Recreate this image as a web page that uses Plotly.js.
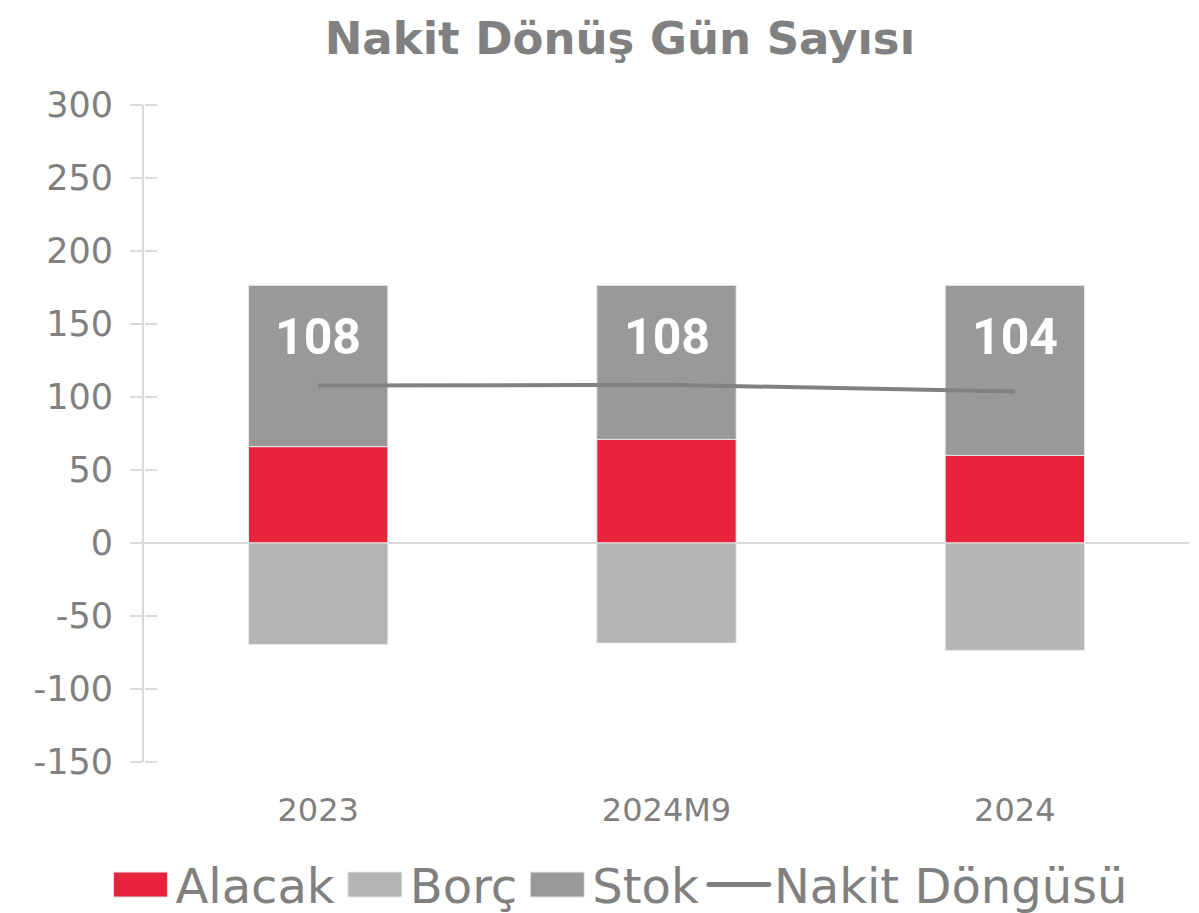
<!DOCTYPE html>
<html>
<head>
<meta charset="utf-8">
<script src="https://cdn.plot.ly/plotly-3.0.1.min.js"></script>
<style>html,body{margin:0;padding:0;background:#fff;}#chart{width:1199px;height:913px;}</style>
</head>
<body>
<div id="chart"></div>
<script>
const categories = ["2023", "2024M9", "2024"];
const alacak = [66, 71, 60];
const borc = [-69.5, -68.5, -73.5];
const stok = [110.5, 105.5, 116.5];
const nakit = [107.8, 108.4, 103.7];
const nakitLabels = ["108", "108", "104"];
const yTicks = [-150, -100, -50, 0, 50, 100, 150, 200, 250, 300];

const FONT = "DejaVu Sans, sans-serif";
const GRAY = "#808080";

const traces = [
  {type: "bar", name: "Alacak", x: categories, y: alacak,
   marker: {color: "#E8233B", line: {color: "#e8e8e8", width: 1}}, hoverinfo: "y"},
  {type: "bar", name: "Borç", x: categories, y: borc,
   marker: {color: "#B4B4B4", line: {color: "#e8e8e8", width: 1}}, hoverinfo: "y"},
  {type: "bar", name: "Stok", x: categories, y: stok,
   marker: {color: "#999999", line: {color: "#e8e8e8", width: 1}}, hoverinfo: "y"},
  {type: "scatter", mode: "lines", name: "Nakit Döngüsü", x: categories, y: nakit,
   line: {color: GRAY, width: 4}, hoverinfo: "y"},
  // invisible helper so the mirrored tick axis (y2) is drawn, giving crossing ticks
  {type: "scatter", mode: "markers", x: categories, y: nakit, yaxis: "y2",
   marker: {opacity: 0}, showlegend: false, hoverinfo: "skip"}
];

// category axis: annotation x given as the category index
const annotations = categories.map((c, i) => ({
  x: i, y: alacak[i] + stok[i], xref: "x", yref: "y",
  text: "<b>" + nakitLabels[i] + "</b>", showarrow: false,
  yanchor: "middle", yshift: -52,
  font: {family: "Roboto, sans-serif", size: 50, color: "#ffffff"}
}));

const layout = {
  width: 1199, height: 913,
  margin: {l: 144, r: 10, t: 105, b: 151, autoexpand: false},
  paper_bgcolor: "#ffffff", plot_bgcolor: "#ffffff",
  barmode: "relative", bargap: 0.6,
  title: {text: "<b>Nakit Dönüş Gün Sayısı</b>", x: 0.517, xref: "container", xanchor: "center",
          y: 0.958, yref: "container", yanchor: "middle",
          font: {family: FONT, size: 45, color: GRAY}},
  xaxis: {type: "category", range: [-0.5, 2.5], showgrid: false, showline: false, ticks: "",
          tickfont: {family: FONT, size: 32, color: GRAY}, ticklabelstandoff: 26,
          automargin: false, fixedrange: true},
  yaxis: {range: [-150, 300], tickvals: yTicks, ticktext: yTicks.map(String),
          showgrid: false, zeroline: true, zerolinecolor: "#d9d9d9", zerolinewidth: 2,
          showline: true, linecolor: "#d9d9d9", linewidth: 2,
          ticks: "outside", ticklen: 12, tickwidth: 2, tickcolor: "#d9d9d9",
          tickfont: {family: FONT, size: 35, color: GRAY}, ticklabelstandoff: 10,
          automargin: false, fixedrange: true},
  yaxis2: {range: [-150, 300], tickvals: yTicks, overlaying: "y", side: "right",
           anchor: "free", position: 0,
           showgrid: false, zeroline: false, showline: false, showticklabels: false,
           ticks: "outside", ticklen: 12, tickwidth: 2, tickcolor: "#d9d9d9",
           automargin: false, fixedrange: true},
  showlegend: true,
  legend: {orientation: "h", x: 0.455, xanchor: "center", y: -0.187, yanchor: "middle",
           font: {family: FONT, size: 48, color: GRAY}, itemwidth: 60,
           traceorder: "normal", bgcolor: "rgba(0,0,0,0)"},
  annotations: annotations
};

Plotly.newPlot("chart", traces, layout, {staticPlot: true, displayModeBar: false}).then(gd => {
  gd.querySelectorAll(".legend path.legendbar, .legend path.legendundefined").forEach(p => {
    const d = p.getAttribute("d");
    if (d && d.indexOf("H") >= 0) {
      p.setAttribute("d", "M27,12.5H-27V-12.5H27Z");
    }
  });
  gd.querySelectorAll(".legend path.js-line").forEach(p => {
    p.style.strokeWidth = "5px";
    p.style.strokeLinecap = "round";
  });
});
</script>
</body>
</html>
